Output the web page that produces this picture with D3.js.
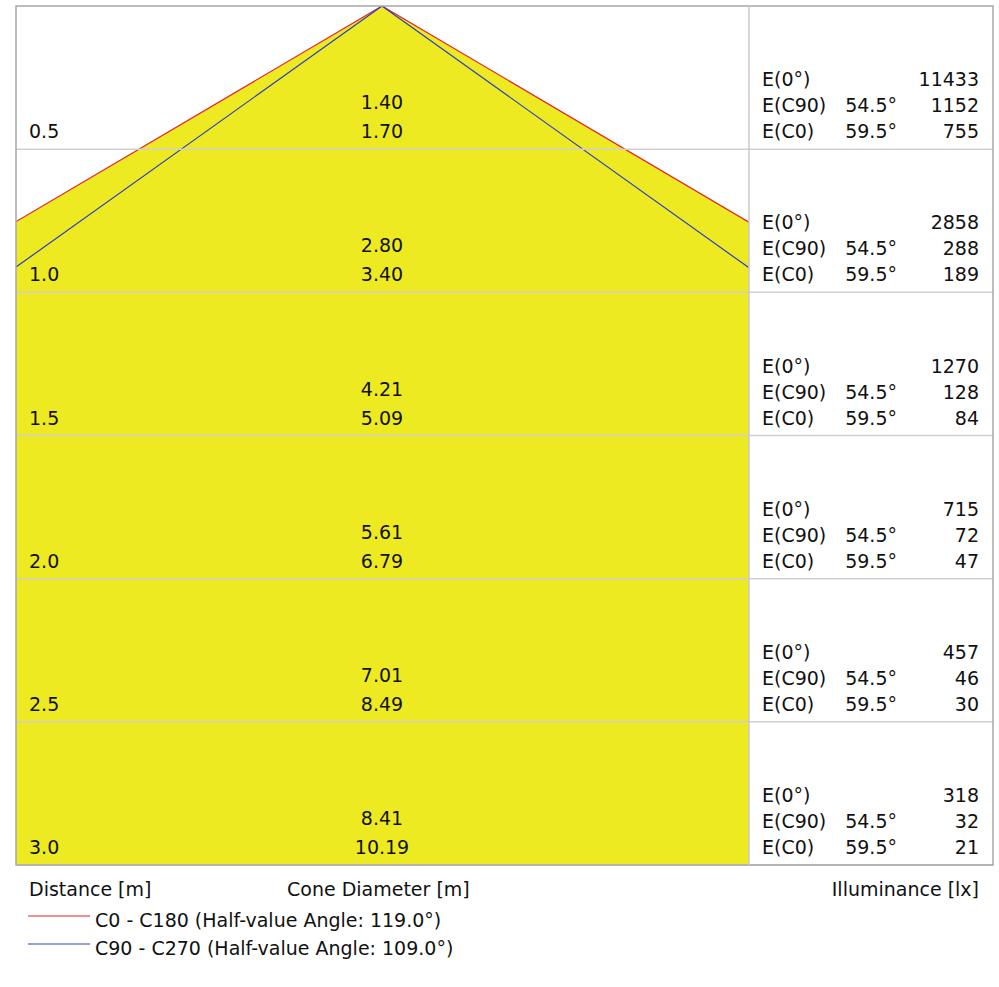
<!DOCTYPE html><html><head><meta charset="utf-8"><script src="https://cdn.jsdelivr.net/npm/d3@7"></script>
<style>body{margin:0;background:#fff}text{font-family:Tahoma,"DejaVu Sans",sans-serif;font-size:19px;fill:#111}</style></head><body><svg id="c" width="999" height="987"></svg><script>
const distances=[0.5,1.0,1.5,2.0,2.5,3.0];
const diamC90=["1.40","2.80","4.21","5.61","7.01","8.41"];
const diamC0=["1.70","3.40","5.09","6.79","8.49","10.19"];
const e0=[11433,2858,1270,715,457,318];
const eC90=[1152,288,128,72,46,32];
const eC0=[755,189,84,47,30,21];
const angleC90="54.5°", angleC0="59.5°";
const halfC0=59.5, halfC90=54.5;
const svg=d3.select("#c");
const L=16,R=749,RR=993,T=6,B=865,apexX=382;
const y=d3.scaleLinear().domain([0,3]).range([T,B]);
const pxPerM=(B-T)/3;
const x=d3.scaleLinear().domain([-(apexX-L)/pxPerM,(R-apexX)/pxPerM]).range([L,R]);
svg.append("defs").append("clipPath").attr("id","cp").append("rect").attr("x",L).attr("y",T).attr("width",R-L).attr("height",B-T);
const g=svg.append("g").attr("clip-path","url(#cp)");
const tC0=Math.tan(halfC0*Math.PI/180), tC90=Math.tan(halfC90*Math.PI/180);
const D=3.2;
g.append("path").attr("d",d3.line()([[x(-D*tC0),y(D)],[x(0),y(0)],[x(D*tC0),y(D)]])+"Z").attr("fill","#eeea22");
// grid
const gr=svg.append("g");
distances.forEach(d=>{gr.append("line").attr("x1",L).attr("x2",RR).attr("y1",y(d)).attr("y2",y(d)).attr("stroke","#d0d0d0").attr("stroke-width",1.5);});
g.append("path").attr("d",d3.line()([[x(-D*tC0),y(D)],[x(0),y(0)],[x(D*tC0),y(D)]])).attr("fill","none").attr("stroke","#e8202a").attr("stroke-width",1.2);
g.append("path").attr("d",d3.line()([[x(-D*tC90),y(D)],[x(0),y(0)],[x(D*tC90),y(D)]])).attr("fill","none").attr("stroke","#2a3ccc").attr("stroke-width",1.2);
svg.append("rect").attr("x",L).attr("y",T).attr("width",RR-L).attr("height",B-T).attr("fill","none").attr("stroke","#a8a8a8").attr("stroke-width",1.5);
svg.append("line").attr("x1",R).attr("x2",R).attr("y1",T).attr("y2",B).attr("stroke","#c8c8c8").attr("stroke-width",1.5);
const t=svg.append("g");
distances.forEach((d,i)=>{
 const yb=y(d);
 t.append("text").attr("x",29).attr("y",yb-11).text(d.toFixed(1));
 t.append("text").attr("x",apexX).attr("y",yb-40).attr("text-anchor","middle").text(diamC90[i]);
 t.append("text").attr("x",apexX).attr("y",yb-11).attr("text-anchor","middle").text(diamC0[i]);
 const rows=[["E(0°)","",e0[i]],["E(C90)",angleC90,eC90[i]],["E(C0)",angleC0,eC0[i]]];
 rows.forEach((r,j)=>{const yy=yb-63+j*26;
  t.append("text").attr("x",762).attr("y",yy).text(r[0]);
  t.append("text").attr("x",897).attr("y",yy).attr("text-anchor","end").text(r[1]);
  t.append("text").attr("x",979).attr("y",yy).attr("text-anchor","end").text(r[2]);});
});
t.append("text").attr("x",29).attr("y",896).text("Distance [m]");
t.append("text").attr("x",287).attr("y",896).text("Cone Diameter [m]");
t.append("text").attr("x",979).attr("y",896).attr("text-anchor","end").text("Illuminance [lx]");
svg.append("line").attr("x1",28).attr("x2",90).attr("y1",916).attr("y2",916).attr("stroke","#e8202a").attr("stroke-width",1.2);
svg.append("line").attr("x1",28).attr("x2",90).attr("y1",944).attr("y2",944).attr("stroke","#2a3ccc").attr("stroke-width",1.2);
t.append("text").attr("x",95).attr("y",927).text("C0 - C180 (Half-value Angle: 119.0°)");
t.append("text").attr("x",95).attr("y",955).text("C90 - C270 (Half-value Angle: 109.0°)");
</script></body></html>
